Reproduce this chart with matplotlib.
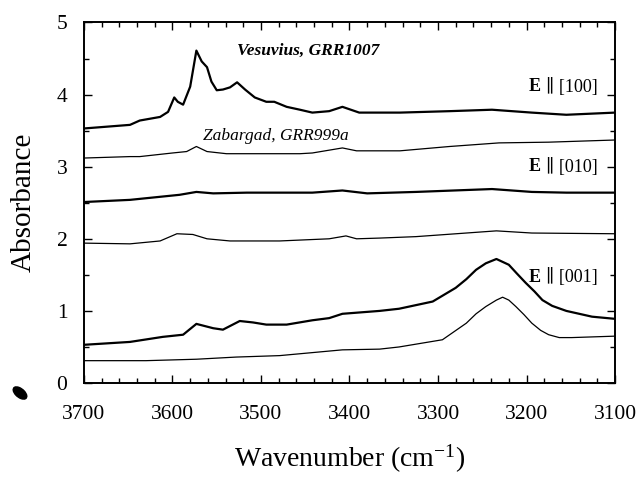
import numpy as np
import matplotlib
matplotlib.use("Agg")
import matplotlib.pyplot as plt
from matplotlib.patches import Ellipse
from matplotlib.ticker import MultipleLocator

plt.rcParams['font.family'] = ['Liberation Serif', 'DejaVu Serif']
plt.rcParams['mathtext.fontset'] = 'custom'
plt.rcParams['mathtext.rm'] = 'Liberation Serif'
plt.rcParams['mathtext.it'] = 'Liberation Serif:italic'
plt.rcParams['mathtext.bf'] = 'Liberation Serif:bold'

# spectra: wavenumber (cm-1) and absorbance
ves100_wn = [3700, 3648, 3637, 3614, 3605, 3598, 3594, 3588, 3580, 3573, 3567, 3561,
             3556, 3550, 3543, 3535, 3527, 3518, 3507, 3494, 3485, 3471, 3456, 3442,
             3423, 3408, 3389, 3366, 3343, 3287, 3239, 3194, 3155, 3100]
ves100_ab = [3.53, 3.58, 3.64, 3.69, 3.76, 3.96, 3.90, 3.86, 4.11, 4.61, 4.46, 4.38,
             4.18, 4.06, 4.07, 4.10, 4.17, 4.07, 3.96, 3.90, 3.90, 3.83, 3.79, 3.75,
             3.77, 3.83, 3.75, 3.75, 3.75, 3.77, 3.79, 3.75, 3.72, 3.75]

zab100_wn = [3700, 3648, 3637, 3600, 3584, 3573, 3561, 3539, 3505, 3456, 3442, 3408,
             3392, 3366, 3343, 3287, 3231, 3175, 3100]
zab100_ab = [3.12, 3.14, 3.14, 3.19, 3.21, 3.28, 3.21, 3.18, 3.18, 3.18, 3.19, 3.26,
             3.22, 3.22, 3.22, 3.28, 3.33, 3.34, 3.37]

ves010_wn = [3700, 3648, 3592, 3573, 3554, 3516, 3442, 3408, 3380, 3325, 3239, 3194,
             3155, 3100]
ves010_ab = [2.51, 2.54, 2.61, 2.65, 2.63, 2.64, 2.64, 2.67, 2.63, 2.65, 2.69, 2.65,
             2.64, 2.64]

zab010_wn = [3700, 3648, 3614, 3595, 3577, 3561, 3535, 3479, 3423, 3404, 3392, 3366,
             3325, 3234, 3194, 3100]
zab010_ab = [1.94, 1.93, 1.97, 2.07, 2.06, 2.00, 1.97, 1.97, 2.00, 2.04, 2.00, 2.01,
             2.03, 2.11, 2.08, 2.07]

ves001_wn = [3700, 3648, 3611, 3588, 3573, 3554, 3543, 3524, 3509, 3494, 3471, 3442,
             3423, 3408, 3366, 3344, 3306, 3280, 3268, 3257, 3246, 3234, 3220, 3211,
             3201, 3191, 3182, 3171, 3155, 3126, 3100]
ves001_ab = [0.53, 0.57, 0.64, 0.67, 0.82, 0.76, 0.74, 0.86, 0.84, 0.81, 0.81, 0.87,
             0.90, 0.96, 1.00, 1.03, 1.13, 1.32, 1.44, 1.57, 1.66, 1.72, 1.64, 1.52,
             1.39, 1.27, 1.15, 1.07, 1.00, 0.92, 0.89]

zab001_wn = [3700, 3630, 3573, 3528, 3479, 3408, 3366, 3344, 3295, 3268, 3257, 3246,
             3234, 3227, 3220, 3212, 3203, 3194, 3184, 3175, 3163, 3149, 3100]
zab001_ab = [0.31, 0.31, 0.33, 0.36, 0.38, 0.46, 0.47, 0.50, 0.60, 0.83, 0.96, 1.06,
             1.15, 1.19, 1.15, 1.06, 0.95, 0.83, 0.73, 0.67, 0.63, 0.63, 0.65]

thick_series = [(ves100_wn, ves100_ab), (ves010_wn, ves010_ab), (ves001_wn, ves001_ab)]
thin_series = [(zab100_wn, zab100_ab), (zab010_wn, zab010_ab), (zab001_wn, zab001_ab)]

pol_labels = ['[100]', '[010]', '[001]']
pol_label_y = [4.11, 3.0, 1.47]

fig = plt.figure(figsize=(6.44, 4.78), dpi=100)
ax = fig.add_axes([0.1304, 0.1987, 0.8246, 0.7543])

for wn, ab in thick_series:
    ax.plot(wn, ab, color='black', lw=1.6, solid_joinstyle='round')
for wn, ab in thin_series:
    ax.plot(wn, ab, color='black', lw=0.9, solid_joinstyle='round')

ax.set_xlim(3700, 3100)
ax.set_ylim(0, 5)
ax.xaxis.set_major_locator(MultipleLocator(100))
ax.xaxis.set_minor_locator(MultipleLocator(20))
ax.yaxis.set_major_locator(MultipleLocator(1))
ax.yaxis.set_minor_locator(MultipleLocator(0.5))
ax.tick_params(which='both', direction='in', top=True, right=True, width=1.0)
ax.tick_params(which='major', length=6)
ax.tick_params(which='minor', length=3.5)
ax.tick_params(axis='x', which='major', labelsize=15.5, pad=16)
ax.tick_params(axis='y', which='major', labelsize=15.5, pad=12)
for sp in ax.spines.values():
    sp.set_linewidth(1.4)

ax.set_xlabel('Wavenumber (cm$^{-1}$)', fontsize=20, labelpad=13)
ax.set_ylabel('Absorbance', fontsize=21, labelpad=14)

ax.text(3527, 4.60, 'Vesuvius, GRR1007', fontsize=12.5, style='italic',
        fontweight='bold', ha='left', va='center')
ax.text(3566, 3.42, 'Zabargad, GRR999a', fontsize=12.5, style='italic',
        ha='left', va='center')
for lab, yy in zip(pol_labels, pol_label_y):
    ax.text(3198, yy, 'E', fontsize=13, fontweight='bold', ha='left', va='center')
    ax.text(3120, yy, '\u2225 ' + lab, fontsize=13, ha='right', va='center')

# scan speck at lower left of the original figure
fig.patches.append(Ellipse((20 / 644, 1 - 393 / 478), 10 / 644, 14 / 478, angle=35,
                           color='black', transform=fig.transFigure))

fig.savefig('out.png', dpi=100)
